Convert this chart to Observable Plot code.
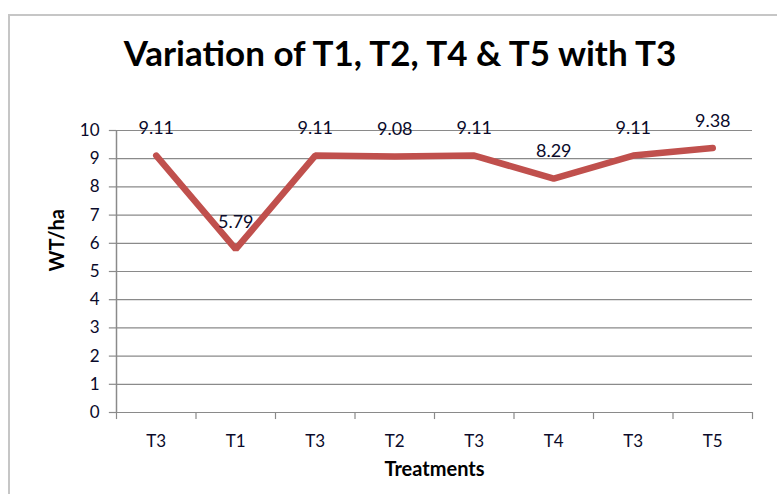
<!DOCTYPE html>
<html>
<head>
<meta charset="utf-8">
<script src="https://cdn.jsdelivr.net/npm/d3@7"></script>
<script src="https://cdn.jsdelivr.net/npm/@observablehq/plot@0.6"></script>
<style>
  html, body { margin: 0; padding: 0; background: #fff; }
  #wrap { position: relative; width: 777px; height: 494px; overflow: hidden; font-family: Lato, "Open Sans", sans-serif; }
  #frame { position: absolute; left: 8px; top: 14px; width: 800px; height: 500px; border-left: 2px solid #c6c6c6; border-top: 2px solid #c6c6c6; }
  #title { position: absolute; left: 0; top: 31px; width: 800px; text-align: center; font-size: 35px; font-weight: bold; color: #000; }
  #chart { position: absolute; left: 0; top: 0; }
</style>
</head>
<body>
<div id="wrap">
  <div id="frame"></div>
  <div id="title">Variation of T1, T2, T4 &amp; T5 with T3</div>
  <div id="chart"></div>
</div>
<script>
const categories = ["T3", "T1", "T3", "T2", "T3", "T4", "T3", "T5"];
const values = [9.11, 5.79, 9.11, 9.08, 9.11, 8.29, 9.11, 9.38];
const yTicks = [0, 1, 2, 3, 4, 5, 6, 7, 8, 9, 10];

const data = categories.map((c, i) => ({i, pos: i + 0.5, cat: c, v: values[i]}));
const font = "Lato, 'Open Sans', sans-serif";

const plot = Plot.plot({
  width: 777,
  height: 494,
  marginLeft: 116,
  marginRight: 25,
  marginTop: 130,
  marginBottom: 82,
  style: {background: "transparent", fontFamily: font, fontSize: "15px", color: "#000", overflow: "visible"},
  x: {type: "linear", domain: [0, categories.length], axis: null},
  y: {type: "linear", domain: [0, 10], axis: null},
  marks: [
    Plot.ruleY(yTicks, {y: d => d, stroke: "#8a8a8a", strokeWidth: 1.2}),
    Plot.ruleY(yTicks, {y: d => d, x1: -0.09, x2: 0, stroke: "#8a8a8a", strokeWidth: 1.2}),
    Plot.ruleX([0], {x: d => d, y1: 0, y2: 10, stroke: "#8a8a8a", strokeWidth: 1.5}),
    Plot.ruleX(d3.range(categories.length + 1), {x: d => d, y1: 0, y2: -0.25, stroke: "#8a8a8a", strokeWidth: 1.2}),
    Plot.text(yTicks, {x: 0, y: d => d, text: d => String(d), textAnchor: "end", dx: -17, fontSize: 17, fill: "#0a0a2a"}),
    Plot.text(data, {x: "pos", y: 0, text: "cat", dy: 29, fontSize: 17, fill: "#0a0a2a"}),
    Plot.line(data, {x: "pos", y: "v", stroke: "#c0504d", strokeWidth: 6.5, strokeLinejoin: "miter", strokeLinecap: "round"}),
    Plot.text(data, {x: "pos", y: "v", text: d => d.v.toFixed(2), dy: -27, fontSize: 18, fill: "#0a0a2a"}),
    Plot.text(["Treatments"], {frameAnchor: "bottom", dy: 63, fontWeight: "bold", fontSize: 20, fill: "#000"}),
    Plot.text(["WT/ha"], {frameAnchor: "left", dx: -59, rotate: -90, fontWeight: "bold", fontSize: 20, fill: "#000"})
  ]
});
document.getElementById("chart").appendChild(plot);
</script>
</body>
</html>
